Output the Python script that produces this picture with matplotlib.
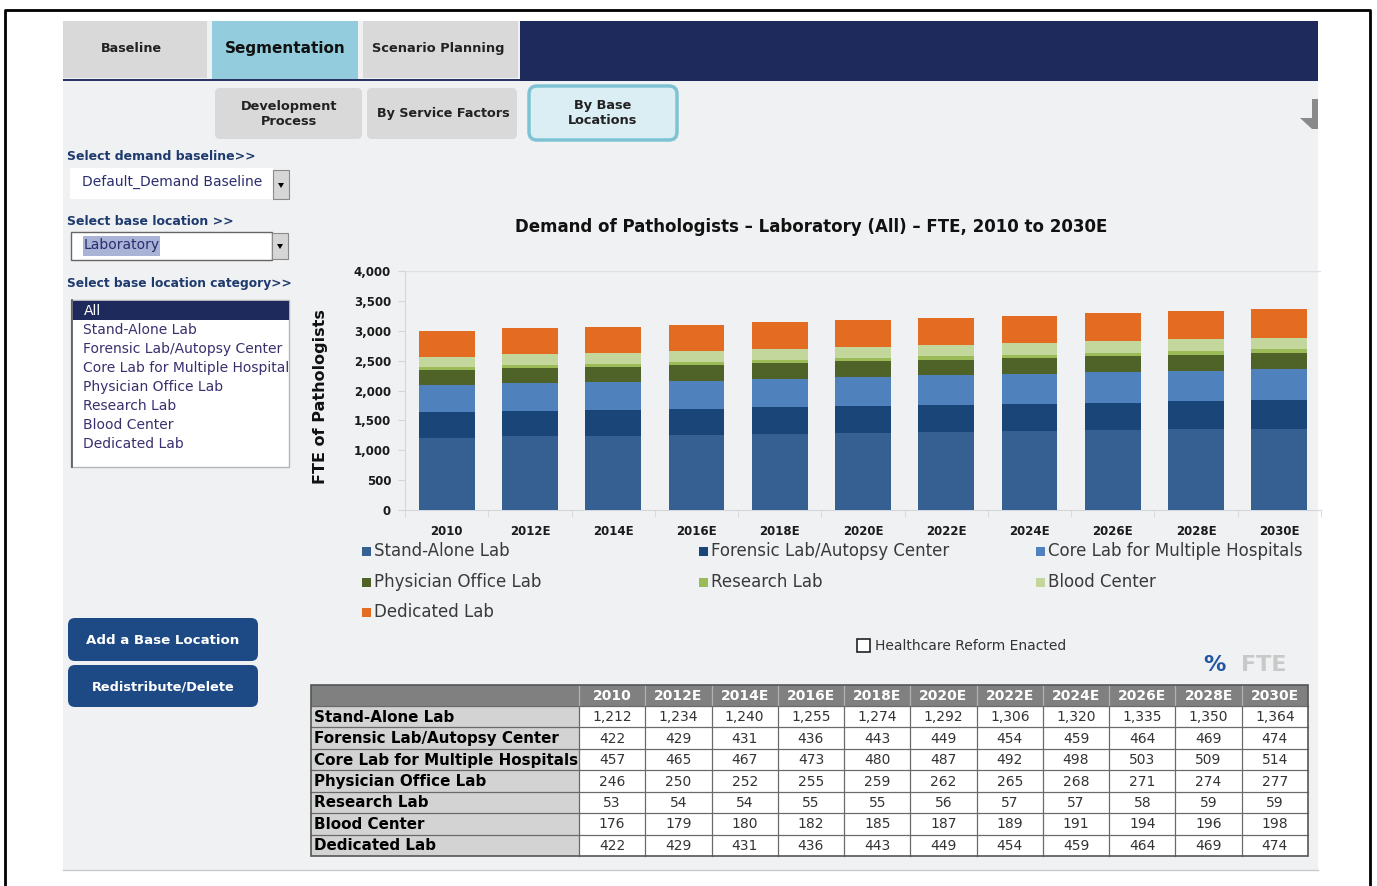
import matplotlib
matplotlib.use('Agg')
import matplotlib.pyplot as plt
from matplotlib.patches import Rectangle, FancyBboxPatch, Polygon
import numpy as np

plt.rcParams['font.family'] = ['DejaVu Sans']

# ---------------- data ----------------
years = ['2010', '2012E', '2014E', '2016E', '2018E', '2020E', '2022E',
         '2024E', '2026E', '2028E', '2030E']
stand_alone = [1212, 1234, 1240, 1255, 1274, 1292, 1306, 1320, 1335, 1350, 1364]
forensic = [422, 429, 431, 436, 443, 449, 454, 459, 464, 469, 474]
core_lab = [457, 465, 467, 473, 480, 487, 492, 498, 503, 509, 514]
physician = [246, 250, 252, 255, 259, 262, 265, 268, 271, 274, 277]
research = [53, 54, 54, 55, 55, 56, 57, 57, 58, 59, 59]
blood = [176, 179, 180, 182, 185, 187, 189, 191, 194, 196, 198]
dedicated = [422, 429, 431, 436, 443, 449, 454, 459, 464, 469, 474]

series_names = ['Stand-Alone Lab', 'Forensic Lab/Autopsy Center',
                'Core Lab for Multiple Hospitals', 'Physician Office Lab',
                'Research Lab', 'Blood Center', 'Dedicated Lab']
series_values = [stand_alone, forensic, core_lab, physician, research, blood, dedicated]
series_colors = ['#366092', '#1a4579', '#4f81bd', '#4f6228', '#9bbb59', '#c3d69b', '#e46c22']

y_ticks = [0, 500, 1000, 1500, 2000, 2500, 3000, 3500, 4000]
list_items = ['Stand-Alone Lab', 'Forensic Lab/Autopsy Center', 'Core Lab for Multiple Hospital',
              'Physician Office Lab', 'Research Lab', 'Blood Center', 'Dedicated Lab']
title = 'Demand of Pathologists \u2013 Laboratory (All) \u2013 FTE, 2010 to 2030E'

# ---------------- figure / UI layer ----------------
W, H = 1377, 886
fig = plt.figure(figsize=(W / 100, H / 100), dpi=100)
fig.patch.set_facecolor('white')
ui = fig.add_axes([0, 0, 1, 1])
ui.set_xlim(0, W)
ui.set_ylim(H, 0)
ui.axis('off')


def rect(x0, y0, x1, y1, fc, ec='none', lw=0, z=1):
    ui.add_patch(Rectangle((x0, y0), x1 - x0, y1 - y0, facecolor=fc,
                           edgecolor=ec, linewidth=lw, zorder=z))


def rrect(x0, y0, x1, y1, fc, ec='none', lw=0, r=6, z=1):
    ui.add_patch(FancyBboxPatch((x0 + r, y0 + r), x1 - x0 - 2 * r, y1 - y0 - 2 * r,
                                boxstyle=f'round,pad={r}', facecolor=fc,
                                edgecolor=ec, linewidth=lw, zorder=z))


def txt(x, y, s, size, color='black', weight='normal', ha='left', va='center',
        z=5, **kw):
    ui.text(x, y, s, fontsize=size, color=color, fontweight=weight,
            ha=ha, va=va, zorder=z, **kw)


# outer frame
ui.plot([5, 5, 1370, 1370], [886, 10, 10, 886], color='black', lw=2, zorder=10,
        solid_capstyle='butt')

# panel background
rect(63, 21, 1318, 870, '#eff1f3', z=0)
ui.plot([63, 1318], [870, 870], color='#c8cacc', lw=1, zorder=1)

# top tabs
rect(63, 21, 207, 78, '#d9d9d9')
txt(131, 48, 'Baseline', 9.2, '#222222', 'bold', ha='center')
rect(212, 21, 358, 80, '#93cddd')
txt(285, 48, 'Segmentation', 11, '#111111', 'bold', ha='center')
rect(363, 21, 518, 78, '#d9d9d9')
txt(438, 48, 'Scenario Planning', 9.4, '#222222', 'bold', ha='center')
rect(520, 21, 1318, 81, '#1f2a5c')
rect(63, 79, 520, 81, '#2a3466')

# sub tabs
rrect(215, 88, 362, 139, '#d9d9d9', r=5)
txt(289, 114, 'Development\nProcess', 9.3, '#222222', 'bold', ha='center', linespacing=1.25)
rrect(367, 88, 517, 139, '#d9d9d9', r=5)
txt(443, 113, 'By Service Factors', 9.2, '#222222', 'bold', ha='center')
rrect(529, 86, 677, 140, '#dbeef4', ec='#7ec3d3', lw=2.5, r=8)
txt(603, 113, 'By Base\nLocations', 9.3, '#222222', 'bold', ha='center', linespacing=1.25)

# small grey arrow at right
ui.add_patch(Polygon([(1312, 99), (1318, 99), (1318, 129), (1312, 129), (1300, 118), (1312, 118)],
                     closed=True, facecolor='#8a8a8a', edgecolor='none', zorder=2))

# left controls
lab_col = '#1f3a6e'
txt(67, 156, 'Select demand baseline>>', 9, lab_col, 'bold')
rect(70, 168, 273, 199, 'white')
txt(82, 182, 'Default_Demand Baseline', 10, '#2b2d6e')
rect(273, 170, 289, 199, '#d6d6d6', ec='#8a8a8a', lw=0.8)
ui.add_patch(Polygon([(278, 183), (284, 183), (281, 188)], closed=True, fc='black', ec='none', zorder=4))

txt(67, 221, 'Select base location >>', 9, lab_col, 'bold')
rect(71, 232, 272, 260, 'white', ec='#666666', lw=1)
rect(83, 236, 160, 256, '#a9b3d6', z=2)
txt(84, 245, 'Laboratory', 10, '#2b2d6e')
rect(272, 233, 288, 259, '#d6d6d6', ec='#8a8a8a', lw=0.8)
ui.add_patch(Polygon([(277, 244), (283, 244), (280, 249)], closed=True, fc='black', ec='none', zorder=4))

txt(67, 283, 'Select base location category>>', 8.8, lab_col, 'bold')
rect(71, 300, 289, 467, 'white', ec='#b5b5b5', lw=1)
ui.plot([72, 72], [300, 467], color='#555555', lw=1.2, zorder=3)
rect(73, 301, 289, 320, '#1f2a5c', z=2)
txt(84, 311, 'All', 10, 'white')
for i, item in enumerate(list_items):
    txt(83, 330 + 19 * i, item, 10, '#3b2f6e',
        clip_box=None)

# buttons
rrect(68, 618, 258, 661, '#1d4a85', r=7)
txt(163, 640, 'Add a Base Location', 9.6, 'white', 'bold', ha='center')
rrect(68, 665, 258, 707, '#1d4a85', r=7)
txt(163, 687, 'Redistribute/Delete', 9.3, 'white', 'bold', ha='center')

# chart title and y label
txt(811, 227, title, 12, '#111111', 'bold', ha='center')
txt(320, 397, 'FTE of Pathologists', 11.5, '#111111', 'bold', ha='center', rotation=90)

# ---------------- chart ----------------
ax = fig.add_axes([405 / W, 1 - 510 / H, 916 / W, 239 / H])
ax.set_facecolor('none')
x = np.arange(len(years))
bottom = np.zeros(len(years))
containers = []
for name, vals, col in zip(series_names, series_values, series_colors):
    c = ax.bar(x, vals, width=0.67, bottom=bottom, color=col, label=name, zorder=3,
               linewidth=0)
    containers.append(c)
    bottom += np.array(vals)
ax.set_xlim(-0.5, len(years) - 0.5)
ax.set_ylim(0, 4000)
ax.axhline(4000, color='#dcdfe3', lw=1, zorder=1)
for s in ['top', 'right']:
    ax.spines[s].set_visible(False)
for s in ['left', 'bottom']:
    ax.spines[s].set_color('#d3d6da')
ax.set_yticks(y_ticks)
ax.set_yticklabels([f'{v:,}' for v in y_ticks], fontsize=8.5, fontweight='bold', color='#1a1a1a')
ax.tick_params(axis='y', length=5, color='#d3d6da', pad=5)
ax.set_xticks(x)
ax.set_xticklabels(years, fontsize=8.5, fontweight='bold', color='#1a1a1a')
ax.tick_params(axis='x', length=0, pad=11)
ax.set_xticks(np.arange(-0.5, len(years)), minor=True)
ax.tick_params(axis='x', which='minor', length=5, color='#d3d6da')

# legend (row-major, three columns)
leg_cols = [362, 699, 1036]
leg_rows = [551, 582, 612]
for i, (name, col) in enumerate(zip(series_names, series_colors)):
    lx = leg_cols[i % 3]
    ly = leg_rows[i // 3]
    rect(lx, ly - 4.5, lx + 9, ly + 4.5, col, z=3)
    txt(lx + 12, ly, name, 12, '#3a3a3a')

# checkbox and % FTE
rect(857, 639, 870, 652, 'white', ec='#222222', lw=1.2, z=3)
txt(875, 646, 'Healthcare Reform Enacted', 10, '#333333')
txt(1214, 665, '%', 16, '#2356a0', 'bold', ha='center')
txt(1264, 665, 'FTE', 16, '#c9c9c9', 'bold', ha='center')

# ---------------- table ----------------
t_left, t_lab, t_right = 311, 579, 1308
t_top, t_head, t_bot = 685, 706, 856
col_edges = np.linspace(t_lab, t_right, len(years) + 1)
row_edges = np.linspace(t_head, t_bot, len(series_names) + 1)
rect(t_left, t_top, t_right, t_head, '#808080', z=2)
rect(t_left, t_head, t_lab, t_bot, '#d3d3d3', z=2)
rect(t_lab, t_head, t_right, t_bot, 'white', z=2)
for yy in row_edges[1:-1]:
    ui.plot([t_left, t_right], [yy, yy], color='#6a6a6a', lw=0.9, zorder=3)
ui.plot([t_left, t_right], [t_head, t_head], color='#6a6a6a', lw=0.9, zorder=3)
for xx in col_edges[:-1]:
    ui.plot([xx, xx], [t_top, t_head], color='#b0b0b0', lw=0.9, zorder=3)
    ui.plot([xx, xx], [t_head, t_bot], color='#6a6a6a', lw=0.9, zorder=3)
ui.add_patch(Rectangle((t_left, t_top), t_right - t_left, t_bot - t_top, fill=False,
                       edgecolor='#555555', linewidth=1.2, zorder=4))
for j, yr in enumerate(years):
    cx = (col_edges[j] + col_edges[j + 1]) / 2
    txt(cx, (t_top + t_head) / 2 + 0.5, yr, 10, 'white', 'bold', ha='center', z=5)
for i, (name, vals) in enumerate(zip(series_names, series_values)):
    cy = (row_edges[i] + row_edges[i + 1]) / 2 + 0.5
    txt(t_left + 3, cy, name, 10.9, 'black', 'bold', z=5)
    for j, v in enumerate(vals):
        cx = (col_edges[j] + col_edges[j + 1]) / 2
        txt(cx, cy, f'{v:,}', 10, '#333333', ha='center', z=5)

fig.savefig('out.png', dpi=100, facecolor='white')
